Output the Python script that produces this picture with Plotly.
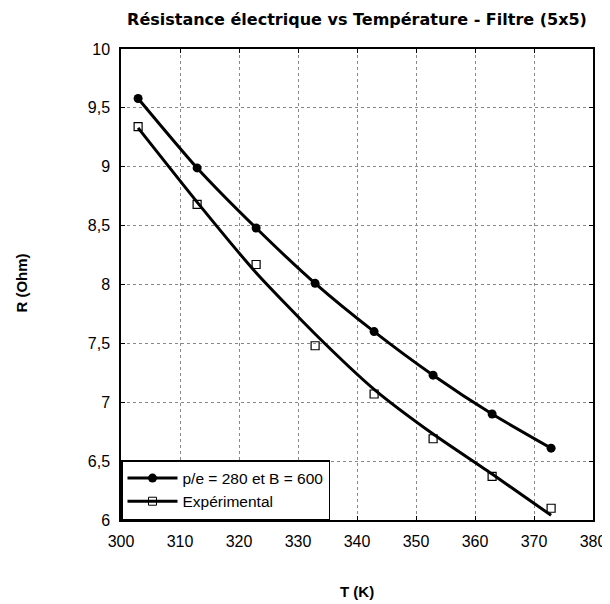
import plotly.graph_objects as go

T = [302.9, 312.9, 322.9, 332.9, 342.9, 352.9, 362.9, 372.9]
R_model = [9.58, 8.99, 8.48, 8.01, 7.60, 7.23, 6.90, 6.61]
R_exp = [9.34, 8.68, 8.17, 7.48, 7.07, 6.69, 6.37, 6.10]
R_exp_fit = [9.33, 8.70, 8.10, 7.58, 7.11, 6.73, 6.39, 6.04]

x_ticks = [300, 310, 320, 330, 340, 350, 360, 370, 380]
y_ticks = [6, 6.5, 7, 7.5, 8, 8.5, 9, 9.5, 10]

name_model = "p/e = 280 et B = 600"
name_exp = "Expérimental"

FONT = "Liberation Sans, Arial"

fig = go.Figure()
fig.add_trace(go.Scatter(x=T, y=R_model, mode="lines+markers", name=name_model,
                         line=dict(color="black", width=3, shape="spline", smoothing=0.6),
                         marker=dict(symbol="circle", size=9, color="black"),
                         showlegend=True))
fig.add_trace(go.Scatter(x=T, y=R_exp_fit, mode="lines", name=name_exp,
                         line=dict(color="black", width=3, shape="spline", smoothing=0.6),
                         showlegend=False, legendgroup="exp"))
fig.add_trace(go.Scatter(x=T, y=R_exp, mode="markers", name=name_exp,
                         marker=dict(symbol="square-open", size=8, color="black",
                                     line=dict(width=1.2)),
                         showlegend=False, legendgroup="exp"))
fig.add_trace(go.Scatter(x=[None], y=[None], mode="lines+markers", name=name_exp,
                         line=dict(color="black", width=3),
                         marker=dict(symbol="square-open", size=8, color="black"),
                         legendgroup="exp", showlegend=True))

axis_common = dict(showline=True, linecolor="black", linewidth=1.5, mirror="ticks",
                   ticks="inside", ticklen=4, tickcolor="black", automargin=False,
                   showgrid=True, gridcolor="#888888", griddash="dot", gridwidth=1,
                   zeroline=False, tickfont=dict(family=FONT, size=16, color="black"))

# page body has an 8px default margin, so the figure is drawn 8px in
W, H = 602, 596
fig.update_layout(
    width=W, height=H,
    margin=dict(l=113, r=17, t=41, b=84, autoexpand=False),
    paper_bgcolor="white", plot_bgcolor="white",
    separators=", ",
    title=dict(text="<b>Résistance électrique vs Température - Filtre (5x5)</b>",
               x=0.5, xref="paper", xanchor="center", y=1 - 11 / H, yanchor="middle",
               font=dict(family="DejaVu Sans", size=16, color="black")),
    xaxis=dict(range=[300, 380], tickvals=x_ticks, ticklabelstandoff=6, **axis_common),
    yaxis=dict(range=[6, 10], tickvals=y_ticks, ticklabelstandoff=6, **axis_common),
    legend=dict(x=0, y=0, xanchor="left", yanchor="bottom",
                bgcolor="white", bordercolor="black", borderwidth=1.5,
                font=dict(family=FONT, size=15.5, color="black"),
                tracegroupgap=0, itemwidth=50),
    annotations=[
        dict(text="<b>R (Ohm)</b>", xref="paper", yref="paper", x=-0.2108, y=0.503,
             textangle=-90, showarrow=False, xanchor="center", yanchor="middle",
             font=dict(family=FONT, size=15, color="black")),
        dict(text="<b>T (K)</b>", xref="paper", yref="paper", x=0.499, y=-0.1523,
             showarrow=False, xanchor="center", yanchor="middle",
             font=dict(family=FONT, size=15, color="black")),
    ],
)

fig.write_html("out.html")
